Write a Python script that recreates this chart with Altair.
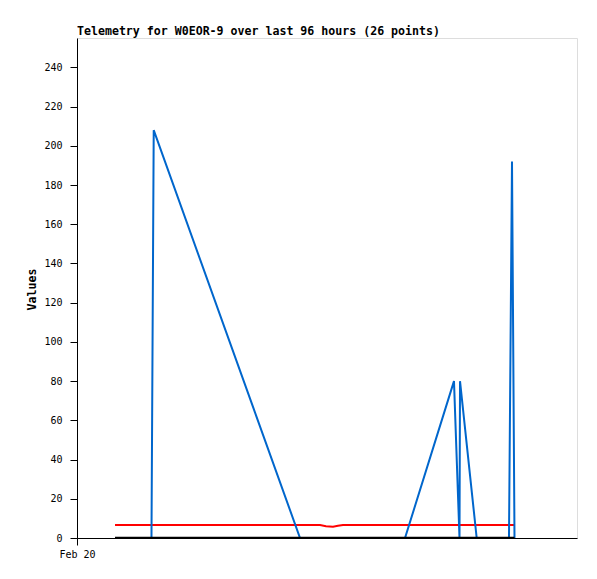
import altair as alt
import pandas as pd

# time of each sample, hours after Feb 20 00:00 (x axis spans 96 hours)
hours = [7.30, 14.30, 14.73, 42.82, 46.66, 47.81, 49.15, 50.11, 51.07,
         62.98, 72.38, 73.44, 73.54, 76.74, 82.94, 83.52, 84.00]
blue_vals = [0, 0, 208, 0, 0, 0, 0, 0, 0, 0, 80, 0, 80, 0, 0, 192, 0]
red_vals = [6.6, 6.6, 6.6, 6.6, 6.6, 6.0, 5.8, 6.2, 6.6,
            6.6, 6.6, 6.6, 6.6, 6.6, 6.6, 6.6, 6.6]
black_vals = [0, 0, 0, 0, 0, 0, 0, 0, 0, 0, 0, 0, 0, 0, 0, 0, 0]

x_tick_values = [0]
x_tick_labels = ["Feb 20"]
y_tick_values = [0, 20, 40, 60, 80, 100, 120, 140, 160, 180, 200, 220, 240]

title_text = "Telemetry for W0EOR-9 over last 96 hours (26 points)"
FONT = "DejaVu Sans Mono"

rows = []
for name, vals in [("red", red_vals), ("blue", blue_vals), ("black", black_vals)]:
    for h, v in zip(hours, vals):
        rows.append({"series": name, "hours": h, "value": v})
df = pd.DataFrame(rows)

label_expr = " : ".join(
    [f"datum.value == {v} ? '{l}'" for v, l in zip(x_tick_values, x_tick_labels)] + ["''"]
)

x_enc = alt.X(
    "hours:Q",
    scale=alt.Scale(domain=[0, 96], nice=False, zero=False),
    axis=alt.Axis(values=x_tick_values, labelExpr=label_expr, title=None,
                  grid=False, tickSize=7, labelPadding=4, labelFontSize=10,
                  labelFont=FONT, labelColor="#000", domainColor="#000",
                  tickColor="#000", labelFlush=False),
)
y_enc = alt.Y(
    "value:Q",
    scale=alt.Scale(domain=[0, 255], nice=False),
    axis=alt.Axis(values=y_tick_values, title="Values", grid=False, tickSize=7,
                  labelPadding=8, labelFontSize=10, labelFont=FONT,
                  labelColor="#000", domainColor="#000", tickColor="#000",
                  titleFont=FONT, titleFontSize=11.6, titleFontWeight="bold",
                  titleColor="#000", titleX=-45, titleY=251, titleAngle=-90,
                  titleAlign="center", titleBaseline="middle"),
)

base = alt.Chart(df)
colors = {"red": "#ff0000", "blue": "#0066cc", "black": "#000000"}
widths = {"red": 2, "blue": 2, "black": 2.5}
layers = []
for name in ["red", "blue", "black"]:
    layers.append(
        base.transform_filter(alt.datum.series == name)
        .mark_line(color=colors[name], strokeWidth=widths[name], clip=True)
        .encode(x=x_enc, y=y_enc, order="hours:Q")
    )

chart = alt.layer(*layers).properties(
    width=500,
    height=500,
    autosize=alt.AutoSizeParams(type="none"),
    padding={"left": 69, "top": 30, "right": 12, "bottom": 33},
    title=alt.TitleParams(title_text, anchor="start", frame="group", font=FONT,
                          fontSize=11.6, fontWeight="bold", color="#000",
                          offset=4, dy=13, baseline="alphabetic"),
).configure_view(stroke="#000000", strokeWidth=1, strokeOpacity=1).configure(background="white")

chart.save("out.html", embed_options={"renderer": "svg", "actions": False})
